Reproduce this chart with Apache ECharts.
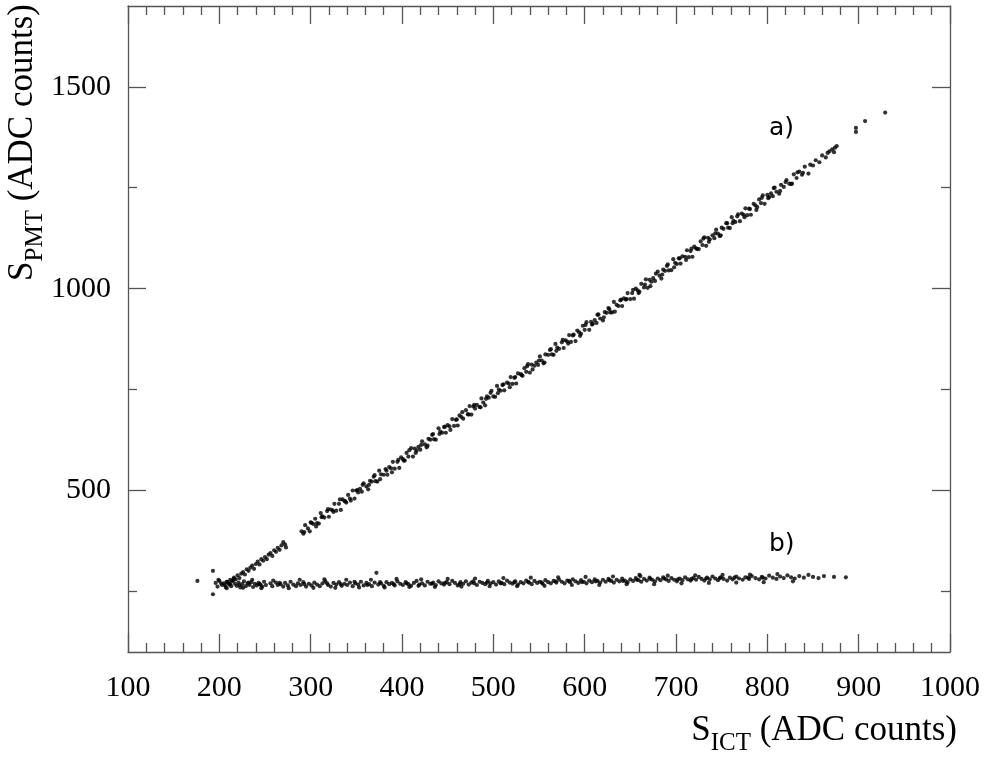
<!DOCTYPE html>
<html>
<head>
<meta charset="utf-8">
<script src="https://cdn.jsdelivr.net/npm/echarts@6/dist/echarts.min.js"></script>
<style>
  html, body { margin: 0; padding: 0; background: #fff; }
  #chart { width: 985px; height: 759px; }
</style>
</head>
<body>
<div id="chart"></div>
<script>
// Axis ranges and ticks (ADC counts)
const xRange = [100, 1000];
const yRange = [100, 1700];
const xTickStep = 100;
const yMajorTicks = [500, 1000, 1500];
const yMinorTicks = [250, 750, 1250];

// Branch a): PMT signal growing with the ICT signal
const branchA = [
  [206,266],[208,274],[210,270],[212,279],[214,276],[216,284],[218,280],[220,290],[222,283],[224,294],
  [226,298],[228,292],[230,305],[232,301],[234,309],[236,314],[238,306],[240,318],[242,324],[244,317],
  [246,330],[248,326],[250,335],[252,330],[254,341],[256,345],[258,338],[260,352],[262,348],[264,358],
  [266,353],[268,364],[270,372],[272,366],[273,359],
  [290,399],[292,393],[294,414],[297,406],[299,399],[301,420],[303,417],[305,430],[307,419],[309,418],
  [311,444],[313,436],[315,433],[318,449],[320,435],[322,453],[324,451],[326,467],[328,450],[331,467],
  [333,452],[335,478],[337,474],[339,470],[341,489],[343,480],[346,500],[348,480],[350,500],[352,495],
  [354,504],[356,497],[358,518],[361,510],[363,503],[365,524],[367,522],[369,534],[371,523],[373,522],
  [375,549],[377,540],[380,539],[382,553],[384,539],[386,558],[388,555],[390,571],[392,554],[395,571],
  [397,556],[399,582],[401,578],[403,574],[405,593],[407,584],[410,605],[412,584],[414,604],[416,599],
  [418,608],[420,601],[422,622],[425,614],[427,607],[429,628],[431,626],[433,638],[435,627],[437,626],
  [440,654],[442,646],[444,643],[446,657],[448,643],[450,662],[452,659],[455,677],[457,660],[459,675],
  [461,661],[463,686],[465,682],[467,678],[470,699],[472,689],[474,709],[476,688],[478,708],[480,703],
  [482,712],[485,707],[487,728],[489,718],[491,711],[493,733],[495,730],[497,742],[500,733],[502,732],
  [504,759],[506,750],[508,747],[510,761],[512,748],[515,767],[517,765],[519,781],[521,764],[523,779],
  [525,765],[527,790],[530,788],[532,784],[534,803],[536,794],[538,813],[540,792],[542,812],[545,809],
  [547,817],[549,811],[551,832],[553,822],[555,815],[557,837],[560,836],[562,848],[564,837],[566,836],
  [568,863],[570,854],[572,851],[575,867],[577,853],[579,872],[581,869],[583,885],[585,868],[587,884],
  [590,870],[592,896],[594,892],[596,888],[598,908],[600,898],[602,917],[605,898],[607,918],[609,913],
  [611,922],[613,915],[615,936],[617,926],[620,921],[622,942],[624,940],[626,952],[628,941],[630,941],
  [632,967],[635,960],[637,957],[639,971],[641,957],[643,976],[645,973],[647,989],[650,974],[652,989],
  [654,975],[656,1000],[658,996],[660,992],[662,1012],[665,1003],[667,1023],[669,1002],[671,1022],[673,1017],
  [675,1026],[677,1019],[680,1042],[682,1032],[684,1025],[686,1047],[688,1044],[690,1056],[692,1045],[695,1046],
  [697,1073],[699,1064],[701,1061],[703,1075],[705,1062],[707,1080],[710,1079],[712,1095],[714,1078],[716,1093],
  [718,1079],[720,1104],[722,1100],[725,1098],[727,1117],[729,1108],[731,1127],[733,1106],[735,1126],[737,1122],
  [740,1132],[742,1125],[744,1146],[746,1136],[748,1130],[750,1151],[752,1148],[755,1162],[757,1151],[759,1150],
  [761,1177],[763,1168],[765,1165],[767,1179],[770,1167],[772,1186],[774,1183],[776,1199],[778,1182],[780,1198],
  [782,1183],[785,1210],[787,1206],[789,1202],[791,1221],[793,1212],[795,1231],[797,1210],[800,1232],[802,1227],
  [804,1236],[806,1229],[808,1250],[810,1240],[813,1235],[815,1257],[818,1252],[821,1269],[824,1260],[826,1259],
  [829,1283],[832,1274],[835,1290],[838,1282],[841,1302],[845,1285],[847,1307],[850,1305],[853,1318],[857,1313],
  [860,1330],[864,1325],[866,1336],[868,1340],[871,1345],[873,1338],[874,1349],[876,1353],
  [293,397],[300,421],[306,411],[312,434],[319,454],[325,447],[332,478],[338,473],[344,475],[351,501],
  [357,514],[364,514],[370,538],[376,528],[383,549],[389,545],[396,576],[402,574],[408,600],[415,593],
  [421,613],[428,611],[434,640],[441,640],[447,658],[453,650],[460,676],[466,694],[473,688],[479,712],
  [486,706],[492,727],[498,747],[505,741],[511,763],[518,756],[524,781],[531,786],[537,808],[543,800],
  [550,822],[556,817],[563,850],[569,846],[576,873],[582,864],[588,886],[595,883],[601,910],[608,911],
  [614,935],[621,929],[627,949],[633,943],[640,973],[646,974],[653,997],[659,989],[666,1010],[672,1006],
  [678,1037],[685,1035],[691,1060],[698,1053],[704,1075],[711,1071],[717,1099],[723,1098],[730,1124],[736,1116],
  [743,1137],[749,1132],[756,1162],[762,1162],[768,1184],[775,1177],[781,1197],[788,1195],[794,1225],[801,1224],
  [807,1249],[814,1242],[820,1264],[827,1260],[833,1288],[839,1287],
  [897,1388],[897,1398],[907,1415],[929,1436]
];

// Branch b): nearly flat PMT signal
const branchB = [
  [176,276],[193,301],[193,243],[372,296],[660,291],
  [196,271],[198,262],[200,276],[203,266],[205,270],[207,261],[209,274],[211,267],[213,263],[215,277],
  [217,269],[219,264],[221,272],[223,260],[225,268],[227,275],[229,263],[231,270],[233,266],[235,273],
  [237,261],[239,269],[241,265],[243,271],[245,267],[247,262],[249,274],[251,266],[256,270],[258,263],
  [262,272],[264,266],[267,268],[270,262],[272,271],[275,265],[278,274],[281,267],[284,263],[286,270],
  [289,266],[292,273],[295,262],[298,269],[301,265],[304,272],[307,267],[310,263],[313,270],[316,275],
  [319,266],[322,262],[325,271],[328,267],[331,273],[334,264],[337,269],[340,266],[343,272],[346,263],
  [349,270],[352,267],[355,274],[358,265],[361,271],[364,268],[367,263],[370,272],[374,267],[377,270],
  [380,264],[383,273],[386,268],[389,271],[392,265],[395,275],[398,269],[401,266],[404,273],[407,268],
  [410,264],[413,271],[416,276],[419,267],[422,270],[425,265],[428,274],[431,269],[434,272],[437,266],
  [440,275],[443,270],[446,267],[449,273],[452,268],[455,276],[458,271],[461,265],[464,273],[467,269],
  [470,275],[473,267],[476,272],[479,270],[482,266],[485,274],[488,271],[491,268],[494,276],[497,270],
  [500,273],[503,267],[506,275],[509,271],[512,268],[515,277],[518,272],[521,269],[524,275],[527,267],
  [530,273],[533,270],[536,277],[539,272],[542,268],[545,276],[548,271],[551,274],[554,269],[557,278],
  [560,273],[563,270],[566,276],[569,272],[572,279],[575,274],[578,270],[581,277],[584,273],[587,280],
  [590,275],[593,271],[596,278],[599,274],[602,270],[605,277],[608,273],[611,280],[614,276],[617,272],
  [620,279],[623,274],[626,281],[629,276],[632,272],[635,279],[638,275],[641,282],[644,277],[647,273],
  [650,280],[653,276],[656,283],[659,278],[662,274],[665,281],[668,277],[671,284],[674,279],[677,275],
  [680,282],[683,278],[686,285],[689,280],[692,276],[695,283],[698,279],[701,275],[704,282],[707,278],
  [710,285],[713,280],[716,277],[719,283],[722,279],[725,286],[728,281],[731,277],[734,284],[737,280],
  [740,287],[743,282],[746,278],[749,285],[752,281],[756,277],[759,284],[762,280],[766,287],[769,282],
  [773,279],[776,285],[780,281],[783,288],[787,283],[791,280],[794,286],[798,282],[802,289],[806,284],
  [810,281],[814,287],[818,283],[822,290],[826,285],[830,282],[835,288],[840,284],[845,291],[850,286],
  [856,283],[862,288],[873,286],[886,285],
  [202,270],[212,269],[222,266],[232,272],[244,268],[266,271],[293,268],[318,270],[333,268],[348,274],
  [362,266],[376,273],[391,268],[405,270],[418,264],[433,269],[447,271],[463,268],[478,275],[493,272],
  [508,270],[523,273],[538,274],[553,272],[568,275],[583,276],[597,273],[612,275],[627,278],[642,276],
  [657,279],[672,281],[687,282],[702,280],[717,281],[733,282],[748,283],[764,284],[779,284],[795,284],
  [199,279],[208,258],[216,281],[226,259],[236,279],[246,258],[259,277],[276,258],[288,279],[303,259],
  [315,280],[327,259],[339,279],[353,260],[366,279],[381,260],[394,281],[408,261],[421,280],[436,261],
  [450,281],[465,262],[480,282],[496,263],[511,283],[526,263],[541,284],[556,264],[571,285],[586,266],
  [601,286],[616,266],[631,287],[646,268],[661,288],[676,268],[691,289],[706,270],[721,290],[736,271],
  [751,291],[766,272],[781,292],[796,273],[811,293],[828,275]
];

const serif = '"Liberation Serif", "DejaVu Serif", serif';
const frameColor = '#555';
const tickFont = { fontFamily: serif, fontSize: 30, color: '#000', formatter: v => String(v) };

function xAxisDef(position, showLabels) {
  return {
    type: 'value', position, min: xRange[0], max: xRange[1], interval: xTickStep,
    axisLine: { show: true, onZero: false, lineStyle: { color: frameColor, width: 1.3 } },
    axisTick: { show: true, inside: true, length: 18, lineStyle: { color: frameColor, width: 1.3 } },
    minorTick: { show: true, splitNumber: 5, length: 9, lineStyle: { color: frameColor, width: 1.3 } },
    splitLine: { show: false },
    axisLabel: Object.assign({ show: showLabels, margin: 21 }, tickFont)
  };
}

function yAxisDef(position, ticks, len, showLabels, showLine) {
  return {
    type: 'value', position, min: yRange[0], max: yRange[1],
    axisLine: { show: showLine, onZero: false, lineStyle: { color: frameColor, width: 1.3 } },
    axisTick: { show: true, inside: true, length: len, customValues: ticks, lineStyle: { color: frameColor, width: 1.3 } },
    splitLine: { show: false },
    axisLabel: Object.assign({ show: showLabels, margin: 17, customValues: ticks }, tickFont)
  };
}

// Axis titles: main text plus a smaller subscript pushed down by its top padding
const titleRich = {
  m: { fontFamily: serif, fontSize: 35, lineHeight: 35, verticalAlign: 'top', fill: '#000' },
  s: { fontFamily: serif, fontSize: 25, lineHeight: 43, padding: [18, 0, 0, 0], verticalAlign: 'bottom', fill: '#000' }
};

const chart = echarts.init(document.getElementById('chart'), null, { renderer: 'canvas' });
chart.setOption({
  animation: false,
  backgroundColor: '#fff',
  grid: { left: 128, top: 6, width: 822, height: 646, containLabel: false },
  xAxis: [xAxisDef('bottom', true), xAxisDef('top', false)],
  yAxis: [
    yAxisDef('left', yMajorTicks, 18, true, true),
    yAxisDef('right', yMajorTicks, 18, false, true),
    yAxisDef('left', yMinorTicks, 9, false, false),
    yAxisDef('right', yMinorTicks, 9, false, false)
  ],
  series: [
    { name: 'a', type: 'scatter', xAxisIndex: 0, yAxisIndex: 0, data: branchA,
      symbol: 'circle', symbolSize: 4.2, itemStyle: { color: '#000' } },
    { name: 'b', type: 'scatter', xAxisIndex: 0, yAxisIndex: 0, data: branchB,
      symbol: 'circle', symbolSize: 4.2, itemStyle: { color: '#000' } }
  ],
  graphic: [
    { type: 'text', x: 957, y: 713,
      style: { text: '{m|S}{s|ICT}{m| (ADC counts)}', rich: titleRich, align: 'right', verticalAlign: 'top' } },
    { type: 'text', x: 48, y: 4, rotation: Math.PI / 2,
      style: { text: '{m|S}{s|PMT}{m| (ADC counts)}', rich: titleRich, align: 'right', verticalAlign: 'bottom' } },
    { type: 'text', x: 769, y: 128,
      style: { text: 'a)', font: '25px "DejaVu Sans", sans-serif', fill: '#000', verticalAlign: 'middle' } },
    { type: 'text', x: 769, y: 544,
      style: { text: 'b)', font: '25px "DejaVu Sans", sans-serif', fill: '#000', verticalAlign: 'middle' } }
  ]
});
</script>
</body>
</html>
